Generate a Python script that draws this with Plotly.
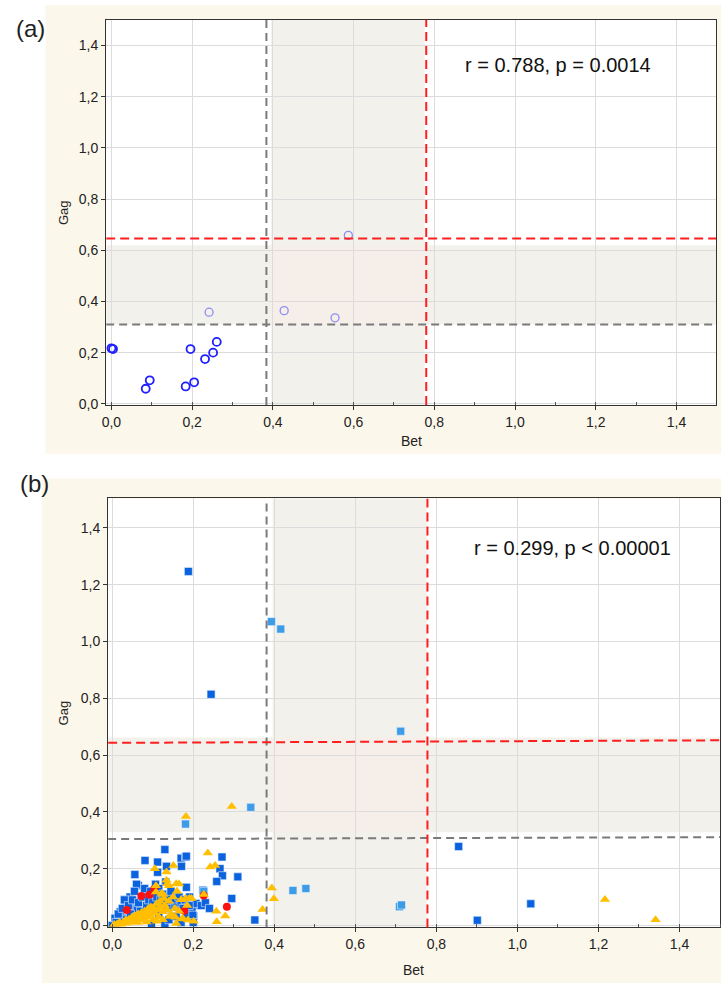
import plotly.graph_objects as go

W, H = 721, 990

# ---------------- data ----------------
# panel (a)
a_x = [0.0, 0.004, 0.085, 0.095, 0.184, 0.205, 0.196, 0.232, 0.252, 0.261]
a_y = [0.217, 0.214, 0.059, 0.092, 0.068, 0.084, 0.214, 0.175, 0.200, 0.242]
a_faint_x = [0.242, 0.428, 0.554, 0.587]
a_faint_y = [0.358, 0.364, 0.336, 0.658]

# panel (b)
b_blue_x = [0.188, 0.244, 0.855, 0.901, 1.033, 0.352,
            0.130, 0.081, 0.112, 0.134, 0.170, 0.181, 0.171, 0.112, 0.056, 0.064, 0.183,
            0.271, 0.266, 0.272, 0.258, 0.310, 0.224, 0.295, 0.151, 0.208, 0.201, 0.130,
            0.132, 0.107, 0.060, 0.044, 0.032, 0.056, 0.081, 0.105, 0.150, 0.158, 0.183,
            0.191, 0.197, 0.020, 0.007, 0.000, 0.028, 0.089, 0.146, 0.158, 0.183, 0.097,
            0.048, 0.062, 0.183, 0.207, 0.199,
            0.010, 0.015, 0.025, 0.030, 0.035, 0.040, 0.045, 0.050, 0.055, 0.065, 0.070,
            0.075, 0.080, 0.085, 0.090, 0.095, 0.100, 0.105, 0.110, 0.115, 0.120, 0.125,
            0.130, 0.135, 0.140, 0.145, 0.155, 0.160, 0.165, 0.170, 0.175, 0.180, 0.190,
            0.220, 0.230, 0.060, 0.115, 0.140, 0.170, 0.200, 0.240]
b_blue_y = [1.247, 0.814, 0.278, 0.018, 0.076, 0.019,
            0.267, 0.229, 0.223, 0.208, 0.237, 0.241, 0.208, 0.187, 0.179, 0.141, 0.134,
            0.241, 0.200, 0.175, 0.155, 0.171, 0.124, 0.095, 0.095, 0.071, 0.033, 0.000,
            0.153, 0.145, 0.145, 0.100, 0.083, 0.083, 0.112, 0.095, 0.106, 0.083, 0.071,
            0.100, 0.054, 0.048, 0.025, 0.000, 0.025, 0.066, 0.066, 0.031, 0.036, 0.000,
            0.066, 0.060, 0.244, 0.077, 0.036,
            0.010, 0.040, 0.060, 0.090, 0.020, 0.070, 0.040, 0.090, 0.120, 0.080, 0.050,
            0.100, 0.130, 0.070, 0.090, 0.120, 0.080, 0.060, 0.100, 0.130, 0.090, 0.110,
            0.080, 0.060, 0.100, 0.120, 0.090, 0.065, 0.100, 0.080, 0.060, 0.090, 0.070,
            0.070, 0.080, 0.030, 0.040, 0.020, 0.010, 0.010, 0.060]

b_light_x = [0.393, 0.416, 0.712, 0.342, 0.181, 0.446, 0.478, 0.709, 0.714, 0.226]
b_light_y = [1.070, 1.044, 0.684, 0.416, 0.357, 0.123, 0.130, 0.066, 0.072, 0.120]

b_red_x = [0.072, 0.104, 0.283, 0.226, 0.178, 0.036, 0.092]
b_red_y = [0.104, 0.128, 0.066, 0.105, 0.052, 0.054, 0.108]

b_yel_x = [0.295, 0.182, 0.394, 0.399, 0.371, 1.216, 1.341, 0.236, 0.242, 0.254,
           0.151, 0.105, 0.134, 0.134, 0.165, 0.140, 0.108, 0.108, 0.226, 0.181,
           0.196, 0.126, 0.257, 0.279, 0.258, 0.185, 0.173, 0.201, 0.156, 0.136,
           0.158, 0.122, 0.142, 0.158, 0.174, 0.187, 0.191,
           0.005, 0.012, 0.018, 0.022, 0.028, 0.033, 0.037, 0.041, 0.045, 0.048,
           0.052, 0.055, 0.058, 0.061, 0.064, 0.067, 0.070, 0.072, 0.075, 0.078,
           0.080, 0.083, 0.086, 0.088, 0.090, 0.093, 0.095, 0.098, 0.100, 0.103,
           0.106, 0.109, 0.112, 0.115, 0.118, 0.120, 0.125, 0.128, 0.130, 0.135,
           0.140, 0.145, 0.150, 0.155, 0.160, 0.165, 0.170, 0.062, 0.085, 0.110, 0.125]
b_yel_y = [0.419, 0.384, 0.132, 0.094, 0.056, 0.091, 0.020, 0.255, 0.206, 0.211,
           0.211, 0.200, 0.188, 0.159, 0.146, 0.140, 0.140, 0.118, 0.109, 0.095,
           0.095, 0.109, 0.050, 0.033, 0.013, 0.070, 0.023, 0.015, 0.029, 0.147,
           0.147, 0.112, 0.031, 0.007, 0.025, 0.019, 0.095,
           0.003, 0.005, 0.010, 0.004, 0.012, 0.018, 0.008, 0.022, 0.015, 0.028,
           0.020, 0.034, 0.012, 0.025, 0.040, 0.030, 0.018, 0.045, 0.035, 0.025,
           0.050, 0.040, 0.030, 0.058, 0.045, 0.035, 0.065, 0.050, 0.020, 0.060,
           0.042, 0.075, 0.055, 0.030, 0.085, 0.065, 0.048, 0.095, 0.070, 0.055,
           0.085, 0.040, 0.100, 0.060, 0.120, 0.050, 0.090, 0.010, 0.012, 0.015, 0.020]

# thresholds / shaded bands
a_gray_v, a_red_v, a_red_h, a_gray_h = 0.384, 0.780, 0.646, 0.310
a_band_x = [0.396, 0.776]
a_band_y = [0.310, 0.620]
b_gray_v, b_red_v = 0.381, 0.778
b_red_h = [0.643, 0.652]
b_gray_h = [0.304, 0.311]
b_band_x = [0.396, 0.776]
b_band_y = [0.328, 0.662]

a_xrange, a_yrange = [-0.013, 1.498], [-0.005, 1.5]
b_xrange, b_yrange = [-0.010, 1.500], [-0.007, 1.504]

a_label = "r = 0.788, p = 0.0014"
b_label = "r = 0.299, p < 0.00001"

# ---------------- layout helpers ----------------
def px_x(p):
    return p / W

def px_y(p):
    return 1 - p / H

A_DOM = dict(l=101, r=716, t=20, b=408)
B_DOM = dict(l=103, r=720, t=502, b=934)

BEIGE = "#fcf7eb"
GREY_SHADE = "#f2f1ec"
PINK_SHADE = "#f6eee9"
FONT = "Liberation Sans, Arial, sans-serif"

fig = go.Figure()

# panel (a) markers
fig.add_trace(go.Scatter(x=a_faint_x, y=a_faint_y, mode="markers", xaxis="x", yaxis="y",
                         marker=dict(symbol="circle-open", size=8, color="#8c8cf6",
                                     line=dict(width=1.3))))
fig.add_trace(go.Scatter(x=a_x, y=a_y, mode="markers", xaxis="x", yaxis="y",
                         marker=dict(symbol="circle-open", size=8, color="#1f1fff",
                                     line=dict(width=1.8))))

# panel (b) markers
fig.add_trace(go.Scatter(x=b_blue_x, y=b_blue_y, mode="markers", xaxis="x2", yaxis="y2",
                         marker=dict(symbol="square", size=8, color="#0a62de",
                                     line=dict(width=0.6, color="#e8f0ff"))))
fig.add_trace(go.Scatter(x=b_light_x, y=b_light_y, mode="markers", xaxis="x2", yaxis="y2",
                         marker=dict(symbol="square", size=8, color="#3e9be6",
                                     line=dict(width=0.6, color="#e8f4ff"))))
fig.add_trace(go.Scatter(x=b_red_x, y=b_red_y, mode="markers", xaxis="x2", yaxis="y2",
                         marker=dict(symbol="circle", size=8, color="#ff1010",
                                     line=dict(width=0))))
fig.add_trace(go.Scatter(x=b_yel_x, y=b_yel_y, mode="markers", xaxis="x2", yaxis="y2",
                         marker=dict(symbol="triangle-up", size=9, color="#ffbf00",
                                     line=dict(width=0))))

shapes = []
shapes.append(dict(type="rect", xref="paper", yref="paper", layer="below",
                   x0=px_x(40), x1=1, y0=px_y(457), y1=px_y(5),
                   fillcolor=BEIGE, line=dict(width=0)))
shapes.append(dict(type="rect", xref="paper", yref="paper", layer="below",
                   x0=px_x(36), x1=1, y0=0, y1=px_y(482),
                   fillcolor=BEIGE, line=dict(width=0)))
for d in (A_DOM, B_DOM):
    shapes.append(dict(type="rect", xref="paper", yref="paper", layer="below",
                       x0=px_x(d["l"]), x1=px_x(d["r"]), y0=px_y(d["b"]), y1=px_y(d["t"]),
                       fillcolor="white", line=dict(width=0)))

def bands(xr, yr, bx, by, xa, ya):
    out = []
    out.append(dict(type="rect", xref=xa, yref=ya, layer="below", x0=bx[0], x1=bx[1],
                    y0=yr[0], y1=yr[1], fillcolor=GREY_SHADE, line=dict(width=0)))
    out.append(dict(type="rect", xref=xa, yref=ya, layer="below", x0=xr[0], x1=xr[1],
                    y0=by[0], y1=by[1], fillcolor=GREY_SHADE, line=dict(width=0)))
    out.append(dict(type="rect", xref=xa, yref=ya, layer="below", x0=bx[0], x1=bx[1],
                    y0=by[0], y1=by[1], fillcolor=PINK_SHADE, line=dict(width=0)))
    return out

shapes += bands(a_xrange, a_yrange, a_band_x, a_band_y, "x", "y")
shapes += bands(b_xrange, b_yrange, b_band_x, b_band_y, "x2", "y2")

GRAY_LINE = dict(color="#7a7a7a", width=2, dash="8px,5px")
RED_LINE = dict(color="#ff1e1e", width=2, dash="9px,5px")

shapes.append(dict(type="line", xref="x", yref="y", x0=a_gray_v, x1=a_gray_v,
                   y0=a_yrange[0], y1=a_yrange[1], line=GRAY_LINE))
shapes.append(dict(type="line", xref="x", yref="y", x0=a_xrange[0], x1=a_xrange[1],
                   y0=a_gray_h, y1=a_gray_h, line=GRAY_LINE))
shapes.append(dict(type="line", xref="x", yref="y", x0=a_red_v, x1=a_red_v,
                   y0=a_yrange[0], y1=a_yrange[1], line=RED_LINE))
shapes.append(dict(type="line", xref="x", yref="y", x0=a_xrange[0], x1=a_xrange[1],
                   y0=a_red_h, y1=a_red_h, line=RED_LINE))
shapes.append(dict(type="line", xref="x2", yref="y2", x0=b_gray_v, x1=b_gray_v,
                   y0=b_yrange[0], y1=b_yrange[1], line=GRAY_LINE))
shapes.append(dict(type="line", xref="x2", yref="y2", x0=b_xrange[0], x1=b_xrange[1],
                   y0=b_gray_h[0], y1=b_gray_h[1], line=GRAY_LINE))
shapes.append(dict(type="line", xref="x2", yref="y2", x0=b_red_v, x1=b_red_v,
                   y0=b_yrange[0], y1=b_yrange[1], line=RED_LINE))
shapes.append(dict(type="line", xref="x2", yref="y2", x0=b_xrange[0], x1=b_xrange[1],
                   y0=b_red_h[0], y1=b_red_h[1], line=RED_LINE))

def note(text, cx, cy, size, angle=0, color="#222"):
    return dict(text=text, xref="paper", yref="paper", x=px_x(cx), y=px_y(cy),
                xanchor="center", yanchor="middle", showarrow=False, textangle=angle,
                font=dict(size=size, color=color, family=FONT))

annotations = [
    note("(a)", 25, 29, 24),
    note("(b)", 29, 487, 24),
    note(a_label, 557, 65, 20, color="#111"),
    note(b_label, 571, 552, 20, color="#111"),
    note("Gag", 58, 214, 13, angle=-90),
    note("Gag", 58, 718, 13, angle=-90),
    note("Bet", 409, 444, 14),
    note("Bet", 411, 977, 14),
]

def axis(dom, rng, anchor, horiz):
    if horiz:
        domain = [px_x(dom["l"]), px_x(dom["r"])]
    else:
        domain = [px_y(dom["b"]), px_y(dom["t"])]
    d = dict(domain=domain, range=rng, anchor=anchor, dtick=0.2, tick0=0,
             tickformat=".1f", showgrid=True, gridcolor="#dcdcdc", gridwidth=1,
             zeroline=False, showline=True, linecolor="#333", linewidth=1.2,
             mirror=True, ticks="outside", ticklen=4, tickcolor="#333",
             tickfont=dict(size=14, color="#222", family=FONT))
    if horiz:
        d["minor"] = dict(dtick=0.1, ticks="inside", ticklen=3, tickcolor="#555",
                          showgrid=False)
    return d

fig.update_layout(
    width=W, height=H, margin=dict(l=0, r=0, t=0, b=0),
    paper_bgcolor="white", plot_bgcolor="rgba(0,0,0,0)",
    showlegend=False, separators=", ",
    xaxis=axis(A_DOM, a_xrange, "y", True),
    yaxis=axis(A_DOM, a_yrange, "x", False),
    xaxis2=axis(B_DOM, b_xrange, "y2", True),
    yaxis2=axis(B_DOM, b_yrange, "x2", False),
    shapes=shapes, annotations=annotations,
)

fig.write_html("out.html", config=dict(displayModeBar=False),
               post_script="document.body.style.margin='0';document.body.style.overflow='hidden';")
